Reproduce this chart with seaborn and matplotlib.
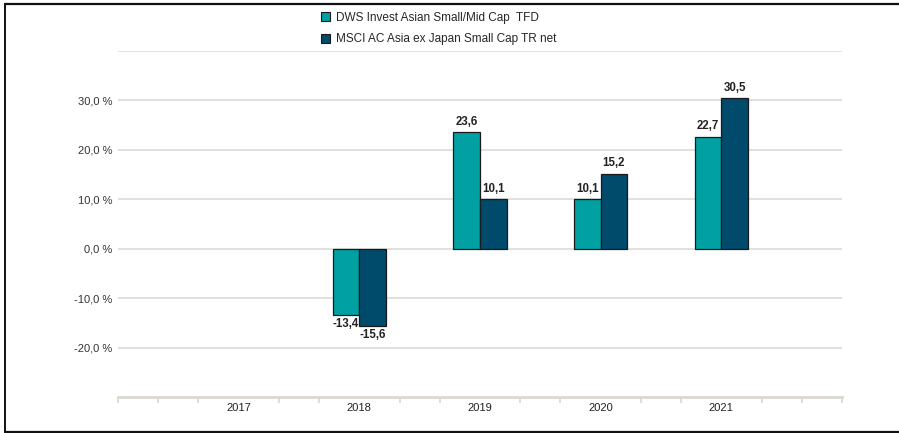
import numpy as np
import pandas as pd
import matplotlib
matplotlib.use("Agg")
import matplotlib.pyplot as plt
import matplotlib.patches as mpatches
from matplotlib.lines import Line2D
import seaborn as sns

years = ["2017", "2018", "2019", "2020", "2021"]
series_names = ["DWS Invest Asian Small/Mid Cap  TFD",
                "MSCI AC Asia ex Japan Small Cap TR net"]
fund = [np.nan, -13.4, 23.6, 10.1, 22.7]
bench = [np.nan, -15.6, 10.1, 15.2, 30.5]
colors = ["#00A0A3", "#004A6C"]
ytick_vals = [-20, -10, 0, 10, 20, 30, 40]

sns.set_theme(style="white")
plt.rcParams['font.family'] = ['Liberation Sans', 'DejaVu Sans']

df = pd.DataFrame({
    "year": years * 2,
    "value": fund + bench,
    "series": [series_names[0]] * len(years) + [series_names[1]] * len(years),
})

fig = plt.figure(figsize=(8.99, 4.33), dpi=100)
ax = fig.add_axes([118/899, 1 - 397/433, (842-118)/899, (397-51)/433])

sns.barplot(data=df.dropna(), x="year", y="value", hue="series", order=years,
            hue_order=series_names, palette=colors, width=0.44, dodge=True,
            edgecolor="#1a1a1a", linewidth=0.9, ax=ax, legend=False, saturation=1)

ax.set_xlim(-1, 5)
ax.set_ylim(-30, 40)
ax.set_yticks(ytick_vals)
ax.set_yticklabels([f"{v:.1f} %".replace(".", ",") if v < 40 else "" for v in ytick_vals])
ax.yaxis.grid(True, color="#E3E0DA", linewidth=1.4)
ax.set_axisbelow(True)
ax.tick_params(axis="y", length=0, pad=4, labelsize=8, labelcolor="#333333")
ax.set_xlabel("")
ax.set_ylabel("")

# x axis styling
for s in ["top", "right", "left"]:
    ax.spines[s].set_visible(False)
ax.spines["bottom"].set_color("#DCD8D0")
ax.spines["bottom"].set_linewidth(2)
ax.tick_params(axis="x", which="major", bottom=True, length=0, pad=4, labelsize=8, labelcolor="#222222")
minor = [i / 3 for i in range(-3, 16) if i % 3 != 0 or i in (-3, 15)]
ax.set_xticks(minor, minor=True)
ax.tick_params(axis="x", which="minor", bottom=True, length=4, width=1.2, color="#DCD8D0", direction="out")

# value labels
for container in ax.containers:
    for bar in container:
        h = bar.get_height()
        if np.isnan(h):
            continue
        x = bar.get_x() + bar.get_width() / 2
        txt = f"{h:.1f}".replace(".", ",")
        if h >= 0:
            ax.annotate(txt, (x, h), xytext=(0, 3), textcoords="offset points",
                        ha="center", va="bottom", fontsize=8.3, fontweight="bold", color="#222222")
        else:
            ax.annotate(txt, (x, h), xytext=(0, -2), textcoords="offset points",
                        ha="center", va="top", fontsize=8.3, fontweight="bold", color="#222222")

# legend
handles = [mpatches.Patch(facecolor=c, edgecolor="#1a1a1a", linewidth=0.8) for c in colors]
fig.legend(handles, series_names, loc="upper left", bbox_to_anchor=(316/899, 1 - 7/433),
           frameon=False, fontsize=8.5, handlelength=0.8, handleheight=0.8,
           handletextpad=0.5, labelspacing=0.8, borderaxespad=0)

# outer frame lines (top, left, bottom)
fig.add_artist(Line2D([5/899, 1], [1 - 4/433, 1 - 4/433], color="#111111", linewidth=1.6, transform=fig.transFigure))
fig.add_artist(Line2D([5/899, 5/899], [1 - 4/433, 1 - 432/433], color="#111111", linewidth=1.4, transform=fig.transFigure))
fig.add_artist(Line2D([5/899, 1], [1 - 432/433, 1 - 432/433], color="#111111", linewidth=1.6, transform=fig.transFigure))

fig.savefig("out.png", dpi=100)
